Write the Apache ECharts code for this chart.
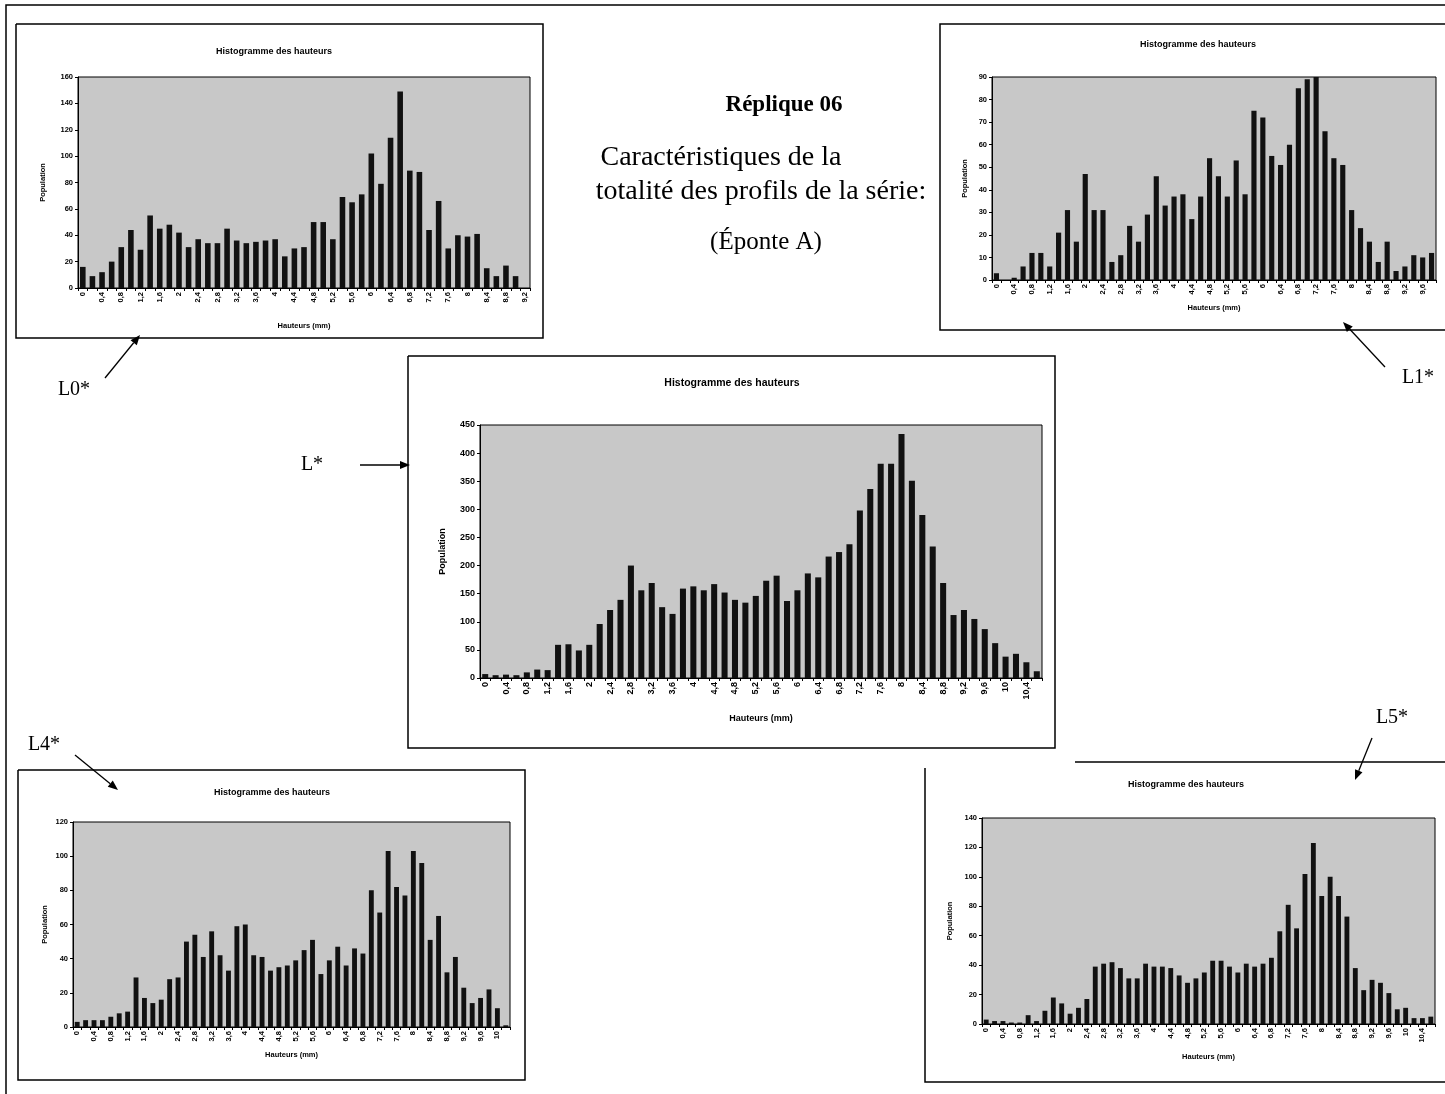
<!DOCTYPE html>
<html><head><meta charset="utf-8">
<script src="https://cdn.jsdelivr.net/npm/echarts@6/dist/echarts.min.js"></script>
<style>html,body{margin:0;padding:0;background:#fff}#c{width:1445px;height:1094px}</style>
</head><body><div id="c"></div>
<script>
// Category labels (Hauteurs, mm)
const HAUTEURS = ['0','0,2','0,4','0,6','0,8','1','1,2','1,4','1,6','1,8','2','2,2','2,4','2,6','2,8','3','3,2','3,4','3,6','3,8','4','4,2','4,4','4,6','4,8','5','5,2','5,4','5,6','5,8','6','6,2','6,4','6,6','6,8','7','7,2','7,4','7,6','7,8','8','8,2','8,4','8,6','8,8','9','9,2','9,4','9,6','9,8','10','10,2','10,4','10,6'];
const catsL0 = HAUTEURS.slice(0, 47);
const catsL1 = HAUTEURS.slice(0, 50);
const catsL  = HAUTEURS.slice(0, 54);
const catsL4 = HAUTEURS.slice(0, 52);
const catsL5 = HAUTEURS.slice(0, 54);

// Population values
const popL0 = [16,9,12,20,31,44,29,55,45,48,42,31,37,34,34,45,36,34,35,36,37,24,30,31,50,50,37,69,65,71,102,79,114,149,89,88,44,66,30,40,39,41,15,9,17,9,0];
const popL1 = [3,0,1,6,12,12,6,21,31,17,47,31,31,8,11,24,17,29,46,33,37,38,27,37,54,46,37,53,38,75,72,55,51,60,85,89,90,66,54,51,31,23,17,8,17,4,6,11,10,12];
const popL  = [7,5,6,5,10,15,14,59,60,49,59,96,121,139,200,156,169,126,114,159,163,156,167,152,139,134,146,173,182,137,156,186,179,216,224,238,298,336,381,381,434,351,290,234,169,112,121,105,87,62,38,43,28,12];
const popL4 = [3,4,4,4,6,8,9,29,17,14,16,28,29,50,54,41,56,42,33,59,60,42,41,33,35,36,39,45,51,31,39,47,36,46,43,80,67,103,82,77,103,96,51,65,32,41,23,14,17,22,11,1];
const popL5 = [3,2,2,1,1,6,2,9,18,14,7,11,17,39,41,42,38,31,31,41,39,39,38,33,28,31,35,43,43,39,35,41,39,41,45,63,81,65,102,123,87,100,87,73,38,23,30,28,21,10,11,4,4,5];

const yMax = [160, 90, 450, 120, 140];
const yStep = [20, 10, 50, 20, 20];
const TITLE = 'Histogramme des hauteurs';
const XNAME = 'Hauteurs (mm)';
const YNAME = 'Population';

const SANS = '"Liberation Sans", Arial, sans-serif';
const SERIF = '"Liberation Serif", "Times New Roman", serif';

const panels = [
  {cats: catsL0, data: popL0, rect: [78, 77, 452, 211], fs: 7.5, tfs: 9, xGap: 34, yGap: 31, title: [274, 52]},
  {cats: catsL1, data: popL1, rect: [992, 77, 444, 203], fs: 7.5, tfs: 9, xGap: 24, yGap: 23, title: [1198, 45]},
  {cats: catsL,  data: popL,  rect: [480, 425, 562, 253], fs: 9, tfs: 10.5, xGap: 36, yGap: 33, title: [732, 383]},
  {cats: catsL4, data: popL4, rect: [73, 822, 437, 205], fs: 7.5, tfs: 9, xGap: 24, yGap: 24, title: [272, 793]},
  {cats: catsL5, data: popL5, rect: [982, 818, 453, 206], fs: 7.5, tfs: 9, xGap: 29, yGap: 28, title: [1186, 785]}
];

const option = {animation: false, backgroundColor: '#fff', grid: [], xAxis: [], yAxis: [], series: [], graphic: []};

panels.forEach((p, i) => {
  option.grid.push({left: p.rect[0], top: p.rect[1], width: p.rect[2], height: p.rect[3],
    show: true, backgroundColor: '#c8c8c8', borderColor: '#000', borderWidth: 1});
  option.xAxis.push({type: 'category', gridIndex: i, data: p.cats, boundaryGap: true,
    axisLine: {lineStyle: {color: '#000', width: 1}},
    axisTick: {show: true, interval: 0, length: 3, lineStyle: {color: '#000'}},
    axisLabel: {interval: 1, rotate: 90, fontSize: p.fs, fontWeight: 'bold', color: '#000', margin: 4, fontFamily: SANS},
    name: XNAME, nameLocation: 'middle', nameGap: p.xGap,
    nameTextStyle: {fontSize: p.fs, fontWeight: 'bold', color: '#000', fontFamily: SANS}});
  option.yAxis.push({type: 'value', gridIndex: i, min: 0, max: yMax[i], interval: yStep[i],
    axisLine: {show: true, lineStyle: {color: '#000', width: 1}},
    axisTick: {show: true, length: 3, lineStyle: {color: '#000'}},
    splitLine: {show: false},
    axisLabel: {fontSize: p.fs, fontWeight: 'bold', color: '#000', margin: 5, fontFamily: SANS},
    name: YNAME, nameLocation: 'middle', nameGap: p.yGap, nameRotate: 90,
    nameTextStyle: {fontSize: p.fs, fontWeight: 'bold', color: '#000', fontFamily: SANS}});
  option.series.push({type: 'bar', xAxisIndex: i, yAxisIndex: i, data: p.data, silent: true,
    barCategoryGap: '42%', itemStyle: {color: '#111'}});
  option.graphic.push({type: 'text', position: [p.title[0], p.title[1]], style: {
    text: TITLE, x: 0, y: 0, fill: '#000', font: 'bold ' + p.tfs + 'px ' + SANS, align: 'center', verticalAlign: 'middle'}});
});

// chart frames
function frame(pts) {
  option.graphic.push({type: 'polyline', shape: {points: pts}, style: {stroke: '#000', lineWidth: 1.5, fill: null}, silent: true});
}
frame([[16, 24], [543, 24], [543, 338], [16, 338], [16, 24]]);
frame([[1445, 24], [940, 24], [940, 330], [1445, 330]]);
frame([[408, 356], [1055, 356], [1055, 748], [408, 748], [408, 356]]);
frame([[18, 770], [525, 770], [525, 1080], [18, 1080], [18, 770]]);
frame([[925, 768], [925, 1082], [1445, 1082]]);
frame([[1075, 762], [1445, 762]]);
// outer frame
frame([[6, 1094], [6, 5], [1445, 5]]);

// text block
function txt(s, x, y, size, bold) {
  option.graphic.push({type: 'text', position: [x, y], style: {text: s, x: 0, y: 0, fill: '#000',
    font: (bold ? 'bold ' : '') + size + 'px ' + SERIF, align: 'center', verticalAlign: 'middle'}});
}
txt('Réplique 06', 784, 105, 23, true);
txt('Caractéristiques de la', 721, 158, 28, false);
txt('totalité des profils de la série:', 761, 192, 28, false);
txt('(Éponte A)', 766, 242, 25, false);
txt('L0*', 74, 390, 20, false);
txt('L1*', 1418, 378, 20, false);
txt('L*', 312, 465, 20, false);
txt('L4*', 44, 745, 20, false);
txt('L5*', 1392, 718, 20, false);

function arrow(x1, y1, x2, y2) {
  const a = Math.atan2(y2 - y1, x2 - x1), L = 10, W = 4;
  const bx = x2 - L * Math.cos(a), by = y2 - L * Math.sin(a);
  option.graphic.push({type: 'line', shape: {x1, y1, x2: bx, y2: by}, style: {stroke: '#000', lineWidth: 1.3}});
  option.graphic.push({type: 'polygon', shape: {points: [[x2, y2],
    [bx + W * Math.sin(a), by - W * Math.cos(a)], [bx - W * Math.sin(a), by + W * Math.cos(a)]]},
    style: {fill: '#000'}});
}
arrow(105, 378, 140, 335);
arrow(1385, 367, 1343, 322);
arrow(360, 465, 410, 465);
arrow(75, 755, 118, 790);
arrow(1372, 738, 1355, 780);

const chart = echarts.init(document.getElementById('c'), null, {renderer: 'canvas'});
chart.setOption(option);
</script></body></html>
